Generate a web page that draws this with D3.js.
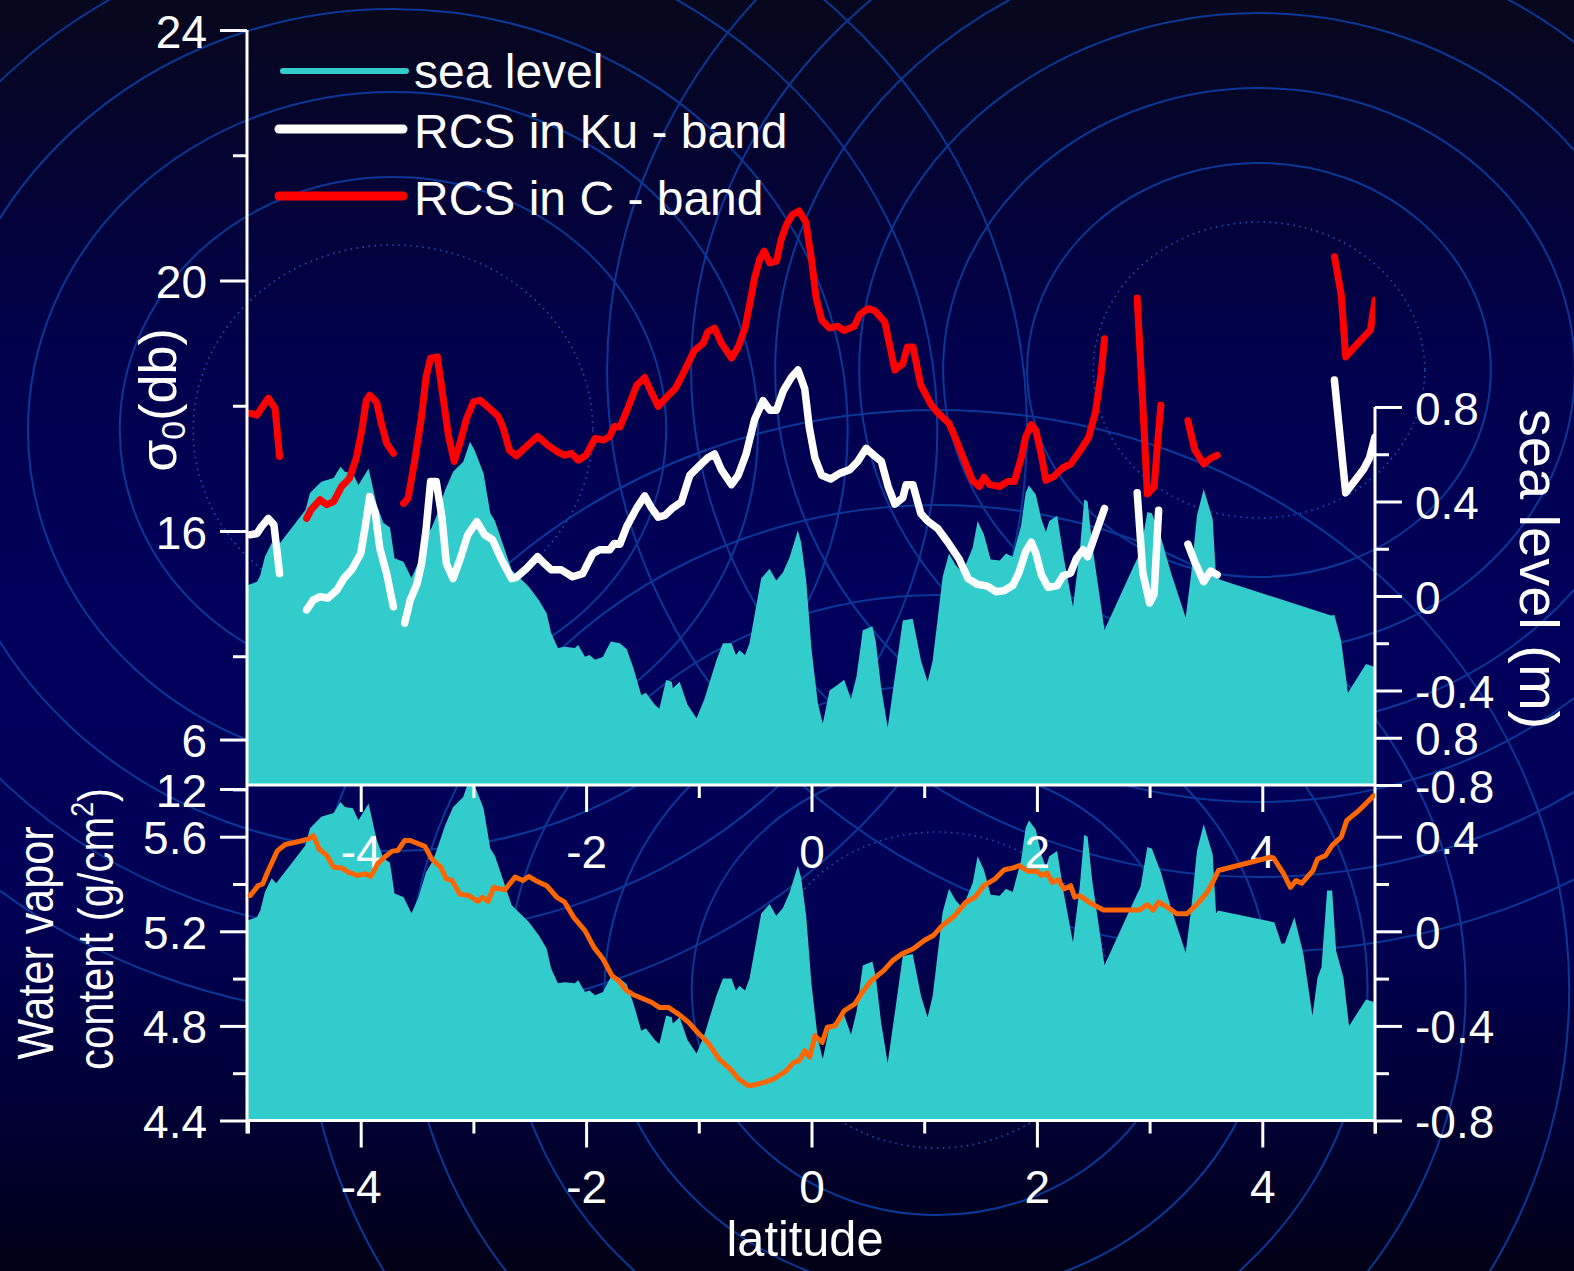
<!DOCTYPE html>
<html><head><meta charset="utf-8">
<script src="https://cdn.jsdelivr.net/npm/d3@7"></script>
<style>
html,body{margin:0;padding:0;background:#000020;overflow:hidden}
svg{display:block}
text{font-family:"Liberation Sans",Arial,Helvetica,sans-serif;fill:#fff}
</style>
</head><body>
<svg id="chart" width="1574" height="1271"></svg>
<script>
// ---------------- DATA ----------------
const latTicks = [-4, -2, 0, 2, 4];
const latMinorTicks = [-5, -3, -1, 1, 3, 5];
const sigmaTickValues = [24, 20, 16, 12.67, 11.88];
const sigmaTickLabels = ["24", "20", "16", "6", "12"];
const sigmaMinorTicks = [22, 18, 14];
const seaTopTickValues = [0.8, 0.4, 0, -0.4, -0.6, -0.8];
const seaTopTickLabels = ["0.8", "0.4", "0", "-0.4", "0.8", "-0.8"];
const seaTopMinorTicks = [0.6, 0.2, -0.2];
const vaporTickValues = [5.6, 5.2, 4.8, 4.4];
const vaporTickLabels = ["5.6", "5.2", "4.8", "4.4"];
const vaporMinorTicks = [5.8, 5.4, 5.0, 4.6];
const seaBotTickValues = [0.4, 0, -0.4, -0.8];
const seaBotTickLabels = ["0.4", "0", "-0.4", "-0.8"];
const seaBotMinorTicks = [0.2, -0.2, -0.6];

const legendLabels = ["sea level", "RCS in Ku - band", "RCS in C - band"];

// sea level (m) vs latitude
const seaLevel = [[-5.00,0.047],[-4.92,0.06],[-4.89,0.089],[-4.85,0.166],[-4.79,0.224],[-4.75,0.203],[-4.49,0.364],[-4.45,0.436],[-4.35,0.484],[-4.24,0.50],[-4.18,0.547],[-4.14,0.526],[-4.07,0.52],[-4.02,0.47],[-3.93,0.54],[-3.86,0.39],[-3.80,0.31],[-3.74,0.29],[-3.70,0.16],[-3.62,0.145],[-3.55,0.076],[-3.49,0.14],[-3.42,0.25],[-3.37,0.29],[-3.33,0.336],[-3.25,0.45],[-3.18,0.526],[-3.09,0.568],[-3.03,0.653],[-2.99,0.618],[-2.91,0.52],[-2.85,0.35],[-2.81,0.32],[-2.66,0.11],[-2.51,0.04],[-2.42,-0.017],[-2.35,-0.073],[-2.31,-0.157],[-2.25,-0.22],[-2.19,-0.215],[-2.10,-0.22],[-2.07,-0.207],[-2.01,-0.257],[-1.97,-0.25],[-1.92,-0.27],[-1.85,-0.257],[-1.82,-0.228],[-1.78,-0.193],[-1.70,-0.20],[-1.64,-0.224],[-1.58,-0.305],[-1.51,-0.42],[-1.47,-0.41],[-1.39,-0.46],[-1.35,-0.477],[-1.29,-0.356],[-1.24,-0.363],[-1.23,-0.39],[-1.17,-0.363],[-1.10,-0.46],[-1.02,-0.517],[-0.95,-0.436],[-0.845,-0.274],[-0.786,-0.20],[-0.71,-0.20],[-0.67,-0.25],[-0.64,-0.23],[-0.59,-0.25],[-0.55,-0.20],[-0.505,-0.08],[-0.446,0.075],[-0.372,0.115],[-0.313,0.066],[-0.254,0.099],[-0.195,0.163],[-0.121,0.277],[-0.092,0.228],[-0.047,0.066],[0.0,-0.224],[0.056,-0.452],[0.10,-0.54],[0.16,-0.40],[0.22,-0.38],[0.29,-0.355],[0.35,-0.436],[0.40,-0.339],[0.455,-0.145],[0.54,-0.128],[0.57,-0.19],[0.618,-0.387],[0.676,-0.557],[0.736,-0.355],[0.81,-0.104],[0.898,-0.096],[0.972,-0.274],[1.03,-0.363],[1.075,-0.274],[1.164,0.082],[1.22,0.18],[1.28,0.13],[1.34,0.10],[1.43,0.204],[1.474,0.317],[1.53,0.26],[1.59,0.155],[1.67,0.15],[1.726,0.18],[1.785,0.166],[1.86,0.30],[1.90,0.438],[1.93,0.468],[1.99,0.43],[2.04,0.325],[2.08,0.272],[2.11,0.317],[2.18,0.34],[2.24,0.158],[2.32,-0.046],[2.38,0.188],[2.42,0.408],[2.45,0.40],[2.49,0.219],[2.60,-0.144],[2.86,0.128],[2.92,0.188],[2.98,0.356],[3.02,0.35],[3.10,0.25],[3.19,0.098],[3.32,-0.091],[3.37,0.098],[3.42,0.34],[3.48,0.453],[3.56,0.325],[3.59,0.076],[3.62,0.07],[4.61,-0.083],[4.64,-0.08],[4.70,-0.19],[4.76,-0.41],[4.92,-0.288],[5.00,-0.30]];
// lower panel shows extra detail between 3.6 and 4.77
const seaLevelLowerPatch = [[3.607,0.088],[4.107,0.038],[4.17,-0.053],[4.20,-0.05],[4.285,0.059],[4.365,-0.096],[4.445,-0.357],[4.49,-0.195],[4.525,-0.152],[4.575,0.172],[4.62,0.172],[4.655,-0.082],[4.72,-0.195],[4.77,-0.40]];

// RCS in Ku-band (dB), segments with gaps
const rcsKu = [
 [[-4.98,15.94],[-4.92,15.96],[-4.88,16.07],[-4.82,16.2],[-4.77,16.1],[-4.72,15.32]],
 [[-4.48,14.74],[-4.42,14.9],[-4.36,14.95],[-4.29,14.93],[-4.21,15.06],[-4.15,15.24],[-4.08,15.38],[-4.0,15.64],[-3.96,16.07],[-3.92,16.55],[-3.87,16.28],[-3.83,15.72],[-3.77,15.32],[-3.71,14.79]],
 [[-3.61,14.53],[-3.56,14.9],[-3.5,15.16],[-3.46,15.48],[-3.42,16.02],[-3.38,16.79],[-3.33,16.79],[-3.28,16.23],[-3.24,15.48],[-3.18,15.24],[-3.12,15.54],[-3.05,15.94],[-2.97,16.15],[-2.90,15.94],[-2.83,15.86],[-2.75,15.54],[-2.66,15.24],[-2.62,15.26],[-2.53,15.40],[-2.43,15.59],[-2.37,15.48],[-2.31,15.38],[-2.22,15.38],[-2.12,15.27],[-2.03,15.32],[-1.94,15.64],[-1.88,15.70],[-1.79,15.70],[-1.75,15.8],[-1.70,15.79],[-1.64,16.07],[-1.55,16.37],[-1.48,16.56],[-1.42,16.37],[-1.36,16.22],[-1.30,16.25],[-1.23,16.37],[-1.155,16.46],[-1.08,16.89],[-0.99,17.05],[-0.92,17.17],[-0.86,17.23],[-0.80,16.98],[-0.71,16.74],[-0.65,16.89],[-0.58,17.23],[-0.505,17.78],[-0.43,18.08],[-0.37,17.93],[-0.31,17.93],[-0.25,18.24],[-0.18,18.45],[-0.12,18.57],[-0.06,18.27],[-0.02,17.66],[0.03,17.17],[0.09,16.89],[0.17,16.83],[0.25,16.92],[0.34,16.98],[0.41,17.11],[0.485,17.32],[0.56,17.2],[0.62,17.11],[0.68,16.71],[0.74,16.43],[0.81,16.53],[0.84,16.74],[0.90,16.74],[0.97,16.28],[1.03,16.16],[1.12,16.04],[1.21,15.82],[1.31,15.55],[1.39,15.24],[1.47,15.15],[1.56,15.12],[1.64,15.03],[1.71,15.05],[1.785,15.13],[1.84,15.33],[1.90,15.67],[1.95,15.82],[1.99,15.65],[2.04,15.30],[2.10,15.10],[2.18,15.13],[2.23,15.28],[2.30,15.33],[2.35,15.56],[2.41,15.70],[2.45,15.59],[2.51,15.90],[2.60,16.36]],
 [[2.89,16.61],[2.94,15.33],[3.0,14.85],[3.04,14.99],[3.08,16.33]],
 [[3.34,15.79],[3.40,15.51],[3.48,15.19],[3.54,15.36],[3.60,15.30]],
 [[4.64,18.41],[4.74,16.61],[4.90,16.99],[4.95,17.16],[5.0,17.5]]
];

// RCS in C-band (dB), segments with gaps
const rcsC = [
 [[-4.98,17.88],[-4.92,17.85],[-4.88,17.96],[-4.82,18.12],[-4.76,17.96],[-4.72,17.19]],
 [[-4.48,16.20],[-4.44,16.34],[-4.36,16.5],[-4.30,16.42],[-4.24,16.47],[-4.17,16.71],[-4.10,16.84],[-4.04,17.16],[-3.99,17.61],[-3.95,18.09],[-3.92,18.17],[-3.86,18.06],[-3.81,17.67],[-3.77,17.40],[-3.71,17.24]],
 [[-3.62,16.44],[-3.58,16.52],[-3.52,17.13],[-3.46,17.83],[-3.42,18.46],[-3.38,18.76],[-3.32,18.78],[-3.27,18.14],[-3.22,17.51],[-3.17,17.11],[-3.12,17.40],[-3.06,17.80],[-3.0,18.06],[-2.94,18.09],[-2.87,17.98],[-2.78,17.83],[-2.74,17.67],[-2.68,17.29],[-2.62,17.2],[-2.53,17.35],[-2.43,17.51],[-2.34,17.37],[-2.26,17.27],[-2.19,17.21],[-2.13,17.24],[-2.07,17.13],[-2.0,17.21],[-1.92,17.48],[-1.85,17.45],[-1.79,17.51],[-1.75,17.67],[-1.70,17.66],[-1.63,17.96],[-1.55,18.33],[-1.48,18.45],[-1.42,18.21],[-1.36,17.99],[-1.30,18.11],[-1.21,18.27],[-1.14,18.51],[-1.04,18.88],[-0.96,19.0],[-0.92,19.18],[-0.86,19.24],[-0.80,19.0],[-0.71,18.76],[-0.65,18.94],[-0.59,19.24],[-0.55,19.61],[-0.505,20.04],[-0.46,20.34],[-0.42,20.47],[-0.37,20.28],[-0.31,20.31],[-0.27,20.65],[-0.22,20.90],[-0.17,21.05],[-0.11,21.11],[-0.05,20.93],[0.0,20.34],[0.04,19.73],[0.09,19.37],[0.16,19.24],[0.23,19.27],[0.29,19.2],[0.38,19.27],[0.43,19.46],[0.50,19.55],[0.56,19.52],[0.65,19.34],[0.69,19.0],[0.74,18.57],[0.81,18.67],[0.85,18.94],[0.90,18.94],[0.97,18.33],[1.06,18.02],[1.13,17.87],[1.22,17.72],[1.28,17.47],[1.36,17.11],[1.43,16.80],[1.49,16.71],[1.53,16.86],[1.58,16.74],[1.67,16.71],[1.74,16.79],[1.80,16.79],[1.86,17.16],[1.90,17.5],[1.95,17.70],[1.99,17.61],[2.04,17.21],[2.08,16.81],[2.15,16.87],[2.23,17.01],[2.30,17.07],[2.39,17.30],[2.46,17.5],[2.52,17.90],[2.57,18.52],[2.60,19.07]],
 [[2.89,19.72],[2.94,18.01],[2.98,16.59],[3.04,16.70],[3.07,17.38],[3.10,18.01]],
 [[3.34,17.76],[3.40,17.30],[3.48,17.07],[3.54,17.16],[3.60,17.21]],
 [[4.64,20.38],[4.70,19.78],[4.74,18.78],[4.84,18.98],[4.96,19.21],[5.0,19.69]]
];

// water vapor content (g/cm2)
const waterVapor = [[-4.98,5.351],[-4.91,5.393],[-4.87,5.40],[-4.82,5.457],[-4.74,5.54],[-4.67,5.567],[-4.54,5.581],[-4.46,5.591],[-4.42,5.605],[-4.37,5.549],[-4.30,5.52],[-4.24,5.471],[-4.17,5.468],[-4.11,5.45],[-4.03,5.436],[-3.96,5.443],[-3.91,5.432],[-3.85,5.485],[-3.79,5.513],[-3.72,5.539],[-3.67,5.542],[-3.61,5.584],[-3.56,5.584],[-3.43,5.559],[-3.37,5.506],[-3.29,5.471],[-3.24,5.422],[-3.19,5.415],[-3.12,5.358],[-3.04,5.351],[-2.96,5.327],[-2.92,5.344],[-2.87,5.327],[-2.82,5.386],[-2.72,5.375],[-2.63,5.429],[-2.56,5.415],[-2.51,5.432],[-2.45,5.415],[-2.35,5.393],[-2.26,5.344],[-2.19,5.323],[-2.11,5.259],[-2.01,5.203],[-1.93,5.132],[-1.85,5.083],[-1.77,5.012],[-1.71,4.991],[-1.64,4.949],[-1.58,4.932],[-1.42,4.90],[-1.35,4.878],[-1.27,4.878],[-1.18,4.850],[-1.09,4.815],[-1.01,4.772],[-0.92,4.73],[-0.82,4.66],[-0.72,4.617],[-0.645,4.575],[-0.56,4.547],[-0.50,4.551],[-0.42,4.561],[-0.34,4.575],[-0.29,4.589],[-0.225,4.61],[-0.16,4.645],[-0.11,4.653],[-0.06,4.695],[-0.016,4.667],[0.03,4.759],[0.095,4.73],[0.14,4.794],[0.21,4.80],[0.29,4.864],[0.385,4.893],[0.45,4.942],[0.53,4.991],[0.64,5.034],[0.72,5.076],[0.80,5.104],[0.90,5.125],[1.0,5.161],[1.08,5.182],[1.16,5.224],[1.27,5.266],[1.37,5.323],[1.45,5.344],[1.53,5.393],[1.63,5.422],[1.71,5.46],[1.79,5.468],[1.845,5.478],[1.92,5.454],[2.00,5.454],[2.04,5.436],[2.09,5.446],[2.14,5.407],[2.19,5.418],[2.24,5.379],[2.30,5.393],[2.335,5.344],[2.38,5.351],[2.48,5.318],[2.59,5.29],[2.91,5.29],[2.98,5.313],[3.03,5.29],[3.08,5.323],[3.16,5.302],[3.24,5.274],[3.33,5.274],[3.41,5.309],[3.51,5.365],[3.56,5.407],[3.61,5.457],[4.07,5.513],[4.10,5.51],[4.19,5.443],[4.25,5.386],[4.30,5.415],[4.35,5.403],[4.45,5.457],[4.49,5.506],[4.56,5.52],[4.62,5.563],[4.70,5.598],[4.75,5.669],[4.85,5.708],[4.99,5.774]];

// ---------------- LAYOUT / STYLE ----------------
const W = 1574, H = 1271;
const COL = {teal:"#33CCCC", white:"#FFFFFF", red:"#FF0000", orange:"#FF6600", ring:"#0b3897", dot:"#1a52bd"};
const FONT_TICK = 46;
const ringSets = [
  {cx:393, cy:430, k:1.08, dot:185, rings:[253,338,421,504,587]},
  {cx:1259, cy:370, k:1.12, dot:148, rings:[207,282,357,432,507,582]},
  {cx:937, cy:990, k:1.09, dot:158, rings:[225,305,395,485,580]}
];

const svg = d3.select("#chart");
const defs = svg.append("defs");
const grad = defs.append("linearGradient").attr("id","bg").attr("x1",0).attr("y1",0).attr("x2",0).attr("y2",1);
[[0,"#07071c"],[0.28,"#00004c"],[0.5,"#00005c"],[0.72,"#000054"],[0.88,"#000034"],[1,"#000016"]]
  .forEach(([o,c]) => grad.append("stop").attr("offset",o).attr("stop-color",c));
svg.append("rect").attr("width",W).attr("height",H).attr("fill","url(#bg)");

// decorative rings
const rg = svg.append("g");
ringSets.forEach(s => {
  rg.append("ellipse").attr("cx",s.cx).attr("cy",s.cy).attr("rx",s.dot*s.k).attr("ry",s.dot)
    .attr("fill","none").attr("stroke",COL.dot).attr("stroke-width",1.6).attr("stroke-dasharray","1.5,4.5");
  s.rings.forEach(r => rg.append("ellipse").attr("cx",s.cx).attr("cy",s.cy).attr("rx",r*s.k).attr("ry",r)
    .attr("fill","none").attr("stroke",COL.ring).attr("stroke-width",2));
});

// scales
const x = d3.scaleLinear().domain([-5,5]).range([248,1375]);
const ySigma = d3.scaleLinear().domain([12,24]).range([781.5,30]);
const ySeaTop = d3.scaleLinear().domain([-0.8,0.8]).range([785,407]);
const yVapor = d3.scaleLinear().domain([4.4,5.6]).range([1120.5,836.7]);
const ySeaBot = d3.scaleLinear().domain([-0.8,0.4]).range([1120.5,836.7]);

const X0 = x(-5) - 1, X1 = x(5), YT = ySigma(24), YM = ySeaTop(-0.8), YB = ySeaBot(-0.8);

defs.append("clipPath").attr("id","clipTop").append("rect").attr("x",X0).attr("y",0).attr("width",X1-X0).attr("height",YM);
defs.append("clipPath").attr("id","clipBot").append("rect").attr("x",X0).attr("y",YM).attr("width",X1-X0).attr("height",YB-YM);

// ---------- top panel ----------
const gTop = svg.append("g").attr("clip-path","url(#clipTop)");
gTop.append("path").datum(seaLevel)
  .attr("d", d3.area().x(d=>x(d[0])).y0(ySeaTop(-0.8)).y1(d=>ySeaTop(d[1])))
  .attr("fill",COL.teal);
const lineSigma = d3.line().x(d=>x(d[0])).y(d=>ySigma(d[1]));
function drawSegs(g, segs, color, w) {
  g.selectAll(null).data(segs).enter().append("path")
   .attr("d", lineSigma).attr("fill","none").attr("stroke",color).attr("stroke-width",w)
   .attr("stroke-linejoin","round").attr("stroke-linecap","round");
}
drawSegs(gTop, rcsKu, COL.white, 7.5);
drawSegs(gTop, rcsC, COL.red, 7);

// ---------- bottom panel ----------
const seaLevelLower = seaLevel.filter(d => d[0] < 3.6 || d[0] > 4.77).concat(seaLevelLowerPatch).sort((a,b)=>a[0]-b[0]);
const gBot = svg.append("g").attr("clip-path","url(#clipBot)");
gBot.append("path").datum(seaLevelLower)
  .attr("d", d3.area().x(d=>x(d[0])).y0(ySeaBot(-0.8)).y1(d=>ySeaBot(d[1])))
  .attr("fill",COL.teal);

// ---------- axes ----------
function styleAxis(g, dy) {
  g.select(".domain").remove();
  g.selectAll("line").attr("stroke","#fff").attr("stroke-width",3);
  g.selectAll("text").attr("fill","#fff").attr("font-size",FONT_TICK)
    .attr("font-family",'"Liberation Sans",Arial,sans-serif');
  if (dy) g.selectAll("text").attr("dy",dy);
}
function yAxisPair(scale, xpos, left, majors, labels, minors) {
  const mk = left ? d3.axisLeft : d3.axisRight;
  const gM = svg.append("g").attr("transform",`translate(${xpos},0)`)
    .call(mk(scale).tickValues(majors).tickFormat((d,i)=>labels[i]).tickSize(27).tickPadding(13));
  styleAxis(gM, "0.37em");
  const gm = svg.append("g").attr("transform",`translate(${xpos},0)`)
    .call(mk(scale).tickValues(minors).tickFormat("").tickSize(14));
  styleAxis(gm);
}
yAxisPair(ySigma, 247, true, sigmaTickValues, sigmaTickLabels, sigmaMinorTicks);
yAxisPair(ySeaTop, 1375, false, seaTopTickValues, seaTopTickLabels, seaTopMinorTicks);
yAxisPair(yVapor, 247, true, vaporTickValues, vaporTickLabels, vaporMinorTicks);
yAxisPair(ySeaBot, 1375, false, seaBotTickValues, seaBotTickLabels, seaBotMinorTicks);

function xAxisPair(ypos, minors, pad) {
  const gM = svg.append("g").attr("transform",`translate(0,${ypos})`)
    .call(d3.axisBottom(x).tickValues(latTicks).tickFormat(d => String(d)).tickSize(27).tickPadding(pad));
  styleAxis(gM);
  const gm = svg.append("g").attr("transform",`translate(0,${ypos})`)
    .call(d3.axisBottom(x).tickValues(minors).tickFormat("").tickSize(13));
  styleAxis(gm);
}
xAxisPair(YM, latMinorTicks.filter(d => Math.abs(d) < 5), 23);
xAxisPair(YB, latMinorTicks, 23);

// axis lines
const axG = svg.append("g").attr("stroke","#fff").attr("stroke-width",3).attr("fill","none");
axG.append("line").attr("x1",247).attr("x2",247).attr("y1",YT).attr("y2",YB+13);
axG.append("line").attr("x1",1375).attr("x2",1375).attr("y1",ySeaTop(0.8)).attr("y2",YB+13);
axG.append("line").attr("x1",246).attr("x2",1376).attr("y1",YM).attr("y2",YM);
axG.append("line").attr("x1",246).attr("x2",1376).attr("y1",YB).attr("y2",YB);

// water vapor line (on top)
svg.append("path").datum(waterVapor)
  .attr("clip-path","url(#clipBot)")
  .attr("d", d3.line().x(d=>x(d[0])).y(d=>yVapor(d[1])))
  .attr("fill","none").attr("stroke",COL.orange).attr("stroke-width",5)
  .attr("stroke-linejoin","round").attr("stroke-linecap","round");

// ---------- legend ----------
const legend = svg.append("g");
const legItems = [
  {label:legendLabels[0], color:COL.teal, w:6, x1:283, x2:406, y:71, ty:88},
  {label:legendLabels[1], color:COL.white, w:9, x1:279, x2:403, y:129, ty:148},
  {label:legendLabels[2], color:COL.red, w:9, x1:279, x2:403, y:196, ty:215}
];
legItems.forEach(it => {
  legend.append("line").attr("x1",it.x1).attr("x2",it.x2).attr("y1",it.y).attr("y2",it.y)
    .attr("stroke",it.color).attr("stroke-width",it.w).attr("stroke-linecap","round");
  legend.append("text").attr("x",414).attr("y",it.ty).attr("font-size",48).text(it.label);
});

// ---------- axis titles ----------
const sig = svg.append("text").attr("transform","translate(176,400) rotate(-90)")
  .attr("text-anchor","middle").attr("font-size",52);
sig.append("tspan").text("σ");
sig.append("tspan").attr("font-size",34).attr("dy",9).text("0");
sig.append("tspan").attr("dy",-9).text("(db)");

svg.append("text").attr("transform","translate(1520,569) rotate(90)")
  .attr("text-anchor","middle").attr("font-size",56).text("sea level (m)");

svg.append("text").attr("x",805).attr("y",1256).attr("text-anchor","middle")
  .attr("font-size",50).attr("textLength",157).attr("lengthAdjust","spacingAndGlyphs").text("latitude");

svg.append("text").attr("transform","translate(53,943) rotate(-90)")
  .attr("text-anchor","middle").attr("font-size",50)
  .attr("textLength",233).attr("lengthAdjust","spacingAndGlyphs").text("Water vapor");
const ct = svg.append("text").attr("transform","translate(113,929) rotate(-90)")
  .attr("text-anchor","middle").attr("font-size",50)
  .attr("textLength",282).attr("lengthAdjust","spacingAndGlyphs");
ct.append("tspan").text("content (g/cm");
ct.append("tspan").attr("font-size",32).attr("dy",-20).text("2");
ct.append("tspan").attr("dy",20).text(")");
</script>
</body></html>
